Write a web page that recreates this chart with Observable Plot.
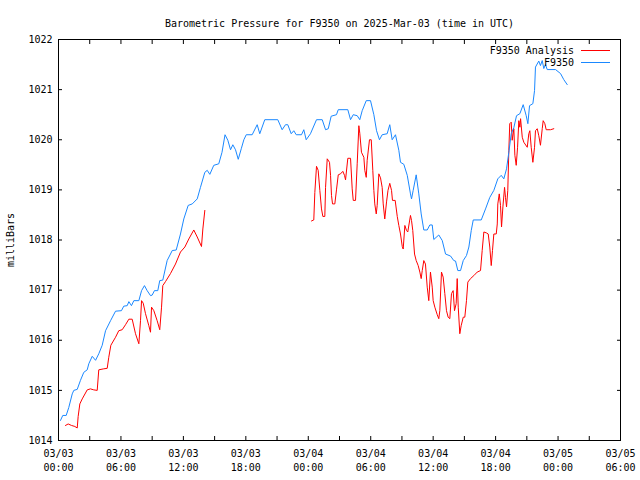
<!DOCTYPE html>
<html><head><meta charset="utf-8">
<script src="https://cdn.jsdelivr.net/npm/d3@7"></script>
<script src="https://cdn.jsdelivr.net/npm/@observablehq/plot@0.6"></script>
<style>
body{margin:0;background:#fff;}
#wrap{position:relative;width:640px;height:480px;font-family:"DejaVu Sans Mono",monospace;font-size:10px;color:#000;}
.leg{position:absolute;right:30px;display:flex;align-items:center;height:12px;white-space:pre;}
.leg svg{margin-left:7px;}
</style></head><body><div id="wrap"></div>
<script>
const title = "Barometric Pressure for F9350 on 2025-Mar-03 (time in UTC)";
const yLabel = "milliBars";
const seriesNames = ["F9350 Analysis", "F9350"];
const seriesColors = ["#ff0000", "#1a88ff"];
const startUTC = Date.UTC(2025, 2, 3, 0, 0);
const endUTC = Date.UTC(2025, 2, 5, 6, 0);
const yTicks = [1014, 1015, 1016, 1017, 1018, 1019, 1020, 1021, 1022];

// Station observations (hours since 2025-03-03 00:00 UTC, mb)
const stationHours = [0.19,0.41,0.74,0.99,1.32,1.47,1.80,2.11,2.43,2.76,2.91,3.24,3.56,3.87,4.20,4.52,5.00,5.48,6.05,6.27,6.60,6.76,7.01,7.24,7.72,7.98,8.26,8.52,8.84,9.00,9.22,9.54,9.73,10.02,10.44,10.93,11.31,11.72,12.04,12.46,12.85,13.33,13.64,14.06,14.29,14.54,14.92,15.40,15.71,16.00,16.27,16.53,16.75,17.01,17.27,17.56,17.81,18.04,18.61,19.09,19.34,19.82,21.07,21.49,21.81,22.03,22.36,22.61,22.84,23.35,23.57,23.80,24.21,24.79,25.34,25.66,25.92,26.20,26.71,26.88,27.80,28.06,28.32,28.70,28.95,29.18,29.57,29.98,30.30,30.56,30.84,31.10,31.58,31.83,32.06,32.38,32.70,32.86,33.18,33.51,33.82,33.92,34.08,34.37,34.62,34.85,35.10,35.43,35.68,35.91,36.06,36.54,36.87,37.19,37.67,37.98,38.15,38.37,38.63,38.89,39.20,39.43,39.66,39.85,40.62,41.03,41.44,41.83,42.21,42.54,42.79,43.05,43.27,43.50,43.75,44.01,44.33,44.65,44.94,45.10,45.26,45.58,45.74,45.83,46.15,46.31,46.48,46.63,46.79,46.96,47.76,48.24,48.55,48.88];
const stationPressure = [1014.40,1014.50,1014.50,1014.66,1014.93,1015.00,1015.02,1015.20,1015.36,1015.41,1015.53,1015.68,1015.60,1015.73,1015.90,1016.19,1016.39,1016.58,1016.59,1016.68,1016.69,1016.77,1016.69,1016.79,1016.79,1016.99,1017.09,1016.99,1016.89,1016.90,1016.99,1016.99,1017.19,1017.20,1017.59,1017.79,1017.80,1018.12,1018.42,1018.69,1018.72,1018.82,1019.05,1019.35,1019.39,1019.31,1019.49,1019.52,1019.75,1020.10,1019.99,1019.80,1019.90,1019.80,1019.61,1019.82,1020.00,1020.10,1020.10,1020.30,1020.12,1020.40,1020.40,1020.20,1020.30,1020.30,1020.12,1020.18,1020.10,1020.10,1020.20,1020.00,1020.12,1020.40,1020.40,1020.20,1020.22,1020.47,1020.50,1020.60,1020.60,1020.40,1020.50,1020.48,1020.40,1020.58,1020.78,1020.78,1020.50,1020.18,1020.00,1020.10,1020.12,1020.30,1020.00,1020.10,1019.79,1019.55,1019.51,1019.29,1018.92,1018.82,1018.99,1019.30,1018.92,1018.52,1018.20,1018.20,1018.30,1018.30,1018.01,1018.10,1017.99,1017.72,1017.68,1017.59,1017.58,1017.39,1017.39,1017.59,1017.69,1017.86,1018.19,1018.40,1018.40,1018.62,1018.85,1018.99,1019.22,1019.29,1019.22,1019.42,1019.75,1020.12,1020.24,1020.48,1020.52,1020.70,1020.48,1020.32,1020.68,1020.72,1020.98,1021.45,1021.57,1021.48,1021.58,1021.42,1021.50,1021.40,1021.40,1021.32,1021.20,1021.10];

// Analysis values (null marks the data gap)
const analysisHours = [0.67,0.93,1.25,1.57,1.80,1.89,2.05,2.28,2.76,3.07,3.39,3.72,3.87,4.35,4.68,4.83,5.03,5.48,5.79,6.12,6.44,6.76,7.08,7.40,7.72,7.88,7.98,8.14,8.36,8.68,8.84,8.94,9.16,9.48,9.73,9.90,10.02,10.28,10.76,11.24,11.72,12.14,12.52,13.00,13.33,13.74,13.87,14.06,19.0,24.31,24.53,24.63,24.79,24.95,25.11,25.27,25.40,25.59,25.66,25.82,26.04,26.14,26.23,26.33,26.55,26.71,26.88,27.10,27.32,27.48,27.58,27.80,28.06,28.22,28.32,28.54,28.70,28.86,28.95,29.11,29.34,29.43,29.57,29.66,29.88,30.05,30.20,30.30,30.39,30.53,30.62,30.78,30.94,31.10,31.20,31.35,31.52,31.66,31.83,32.00,32.09,32.35,32.55,32.70,32.86,33.03,33.12,33.28,33.44,33.56,33.82,33.92,34.04,34.21,34.37,34.56,34.72,34.85,34.95,35.10,35.26,35.43,35.58,35.74,35.91,36.00,36.16,36.39,36.54,36.64,36.80,36.96,37.12,37.28,37.44,37.60,37.76,37.92,38.05,38.21,38.31,38.41,38.56,38.69,38.89,39.04,39.20,39.33,39.59,39.91,40.23,40.55,40.71,40.87,41.13,41.29,41.44,41.58,41.70,41.83,42.06,42.16,42.21,42.35,42.47,42.57,42.70,42.86,42.95,43.05,43.17,43.27,43.36,43.50,43.59,43.75,43.85,43.98,44.11,44.23,44.33,44.40,44.56,44.71,45.04,45.19,45.29,45.42,45.58,45.74,45.83,46.00,46.15,46.31,46.48,46.57,46.73,46.86,47.28,47.59];
const analysisPressure = [1014.30,1014.33,1014.30,1014.28,1014.25,1014.48,1014.73,1014.83,1015.01,1015.03,1015.01,1015.00,1015.41,1015.43,1015.44,1015.66,1015.90,1016.06,1016.19,1016.21,1016.31,1016.42,1016.42,1016.13,1015.93,1016.39,1016.79,1016.74,1016.53,1016.29,1016.16,1016.66,1016.59,1016.39,1016.21,1016.66,1017.09,1017.17,1017.33,1017.52,1017.76,1017.86,1018.02,1018.20,1018.06,1017.87,1018.22,1018.59,null,1018.38,1018.40,1018.95,1019.47,1019.39,1018.99,1018.62,1018.47,1018.47,1019.05,1019.62,1019.55,1019.29,1018.89,1018.72,1018.72,1019.00,1019.30,1019.32,1019.37,1019.29,1019.20,1019.63,1019.63,1019.02,1018.79,1018.79,1019.52,1020.28,1020.13,1019.75,1019.65,1019.39,1019.25,1019.59,1020.00,1020.00,1019.39,1018.99,1018.72,1018.52,1018.69,1019.32,1019.24,1019.05,1018.72,1018.42,1018.76,1018.99,1019.13,1018.99,1018.79,1018.79,1018.47,1018.29,1018.12,1017.87,1017.82,1018.29,1018.19,1018.16,1018.49,1018.39,1018.19,1017.72,1017.59,1017.49,1017.36,1017.23,1017.39,1017.59,1017.52,1017.06,1016.79,1017.36,1017.06,1016.79,1016.66,1016.51,1016.43,1016.59,1017.36,1017.26,1016.93,1016.59,1016.46,1016.43,1016.93,1016.99,1016.59,1016.73,1017.23,1016.66,1016.13,1016.29,1016.46,1016.46,1016.79,1017.16,1017.23,1017.29,1017.36,1017.39,1017.79,1018.16,1018.14,1018.12,1017.86,1017.49,1017.79,1018.12,1018.12,1018.32,1018.72,1018.92,1018.69,1018.26,1018.66,1019.05,1018.85,1018.66,1018.99,1019.79,1020.32,1020.35,1019.99,1020.22,1019.69,1019.49,1019.85,1020.38,1020.25,1020.42,1020.05,1019.95,1019.85,1020.12,1020.18,1019.85,1019.55,1019.85,1020.18,1020.22,1020.08,1019.89,1020.22,1020.38,1020.32,1020.20,1020.20,1020.22];

const toDate = h => new Date(startUTC + h * 3600e3);
const station = stationHours.map((h, i) => ({t: toDate(h), p: stationPressure[i]}));
const analysis = analysisHours.map((h, i) => ({t: toDate(h), p: analysisPressure[i]}));
const xTicks3h = d3.utcHour.every(3).range(new Date(startUTC), new Date(endUTC + 1));
const xTicks6h = d3.utcHour.every(6).range(new Date(startUTC), new Date(endUTC + 1));
const noText = () => "";

const chart = Plot.plot({
  width: 640, height: 480,
  marginTop: 39, marginRight: 20, marginBottom: 40, marginLeft: 58,
  style: {fontFamily: "DejaVu Sans Mono, monospace", fontSize: "10px", background: "#fff", color: "#000"},
  x: {type: "utc", domain: [new Date(startUTC), new Date(endUTC)]},
  y: {domain: [1014, 1022]},
  marks: [
    Plot.axisY({ticks: yTicks, anchor: "left", tickSize: 0, tickPadding: 6, tickFormat: "d", label: yLabel, labelAnchor: "center", labelArrow: "none", labelOffset: 52}),
    Plot.axisY({ticks: yTicks, anchor: "left", tickSize: -4, tickFormat: noText, label: null}),
    Plot.axisY({ticks: yTicks, anchor: "right", tickSize: -4, tickFormat: noText, label: null}),
    Plot.axisX({ticks: xTicks3h, anchor: "bottom", tickSize: -4, tickFormat: noText, label: null}),
    Plot.axisX({ticks: xTicks3h, anchor: "top", tickSize: -4, tickFormat: noText, label: null}),
    Plot.axisX({ticks: xTicks6h, anchor: "bottom", tickSize: 0, tickPadding: 9, tickFormat: d3.utcFormat("%m/%d"), label: null}),
    Plot.axisX({ticks: xTicks6h, anchor: "bottom", tickSize: 0, tickPadding: 23, tickFormat: d3.utcFormat("%H:%M"), label: null}),
    Plot.frame({stroke: "#000"}),
    Plot.line(analysis, {x: "t", y: "p", stroke: seriesColors[0], strokeWidth: 1}),
    Plot.line(station, {x: "t", y: "p", stroke: seriesColors[1], strokeWidth: 1}),
    Plot.text([title], {frameAnchor: "top", dy: -20, fill: "#000"})
  ]
});
const wrap = document.getElementById("wrap");
wrap.appendChild(chart);
seriesNames.forEach((name, i) => {
  const row = document.createElement("div");
  row.className = "leg";
  row.style.top = (44 + i * 12.5) + "px";
  row.innerHTML = `<span>${name}</span><svg width="29" height="3"><line x1="0" x2="29" y1="1.5" y2="1.5" stroke="${seriesColors[i]}" stroke-width="1"/></svg>`;
  wrap.appendChild(row);
});
</script></body></html>
